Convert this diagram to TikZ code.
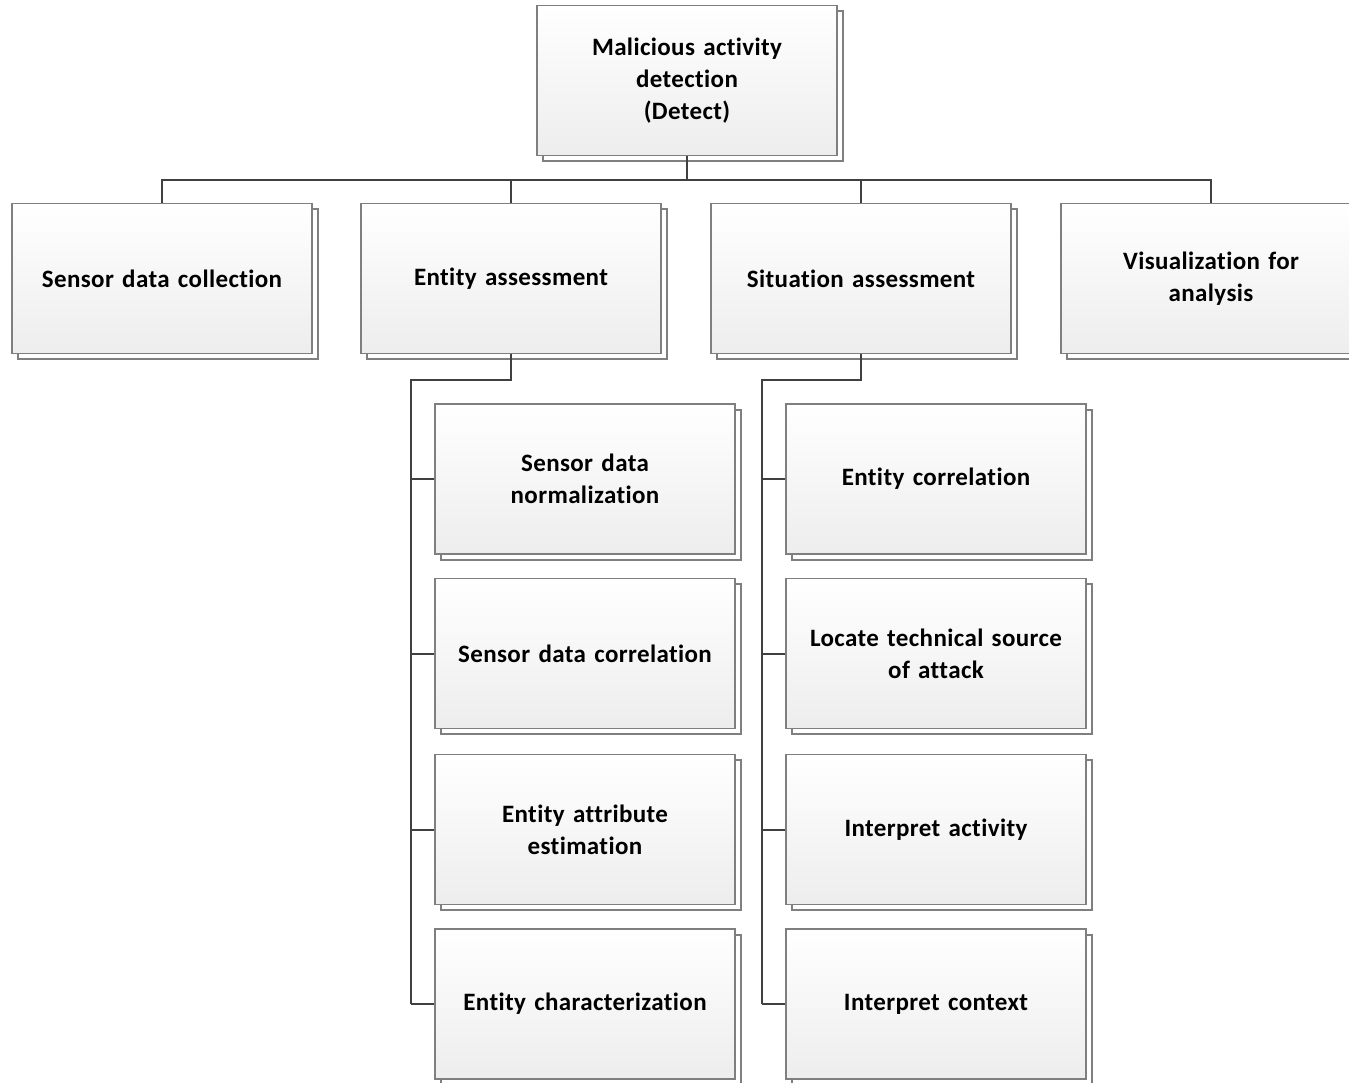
\documentclass[tikz,border=0pt]{standalone}
\usepackage{fontspec}
\setmainfont[Ligatures=NoCommon, LetterSpace=1.5]{Carlito}
\usetikzlibrary{shadows}
\definecolor{edgegray}{HTML}{7F7F7F}
\definecolor{linkgray}{HTML}{404040}
\tikzset{
  box/.style={rectangle, draw=edgegray, line width=1.2pt,
    top color=white, bottom color=black!7,
    minimum width=300pt, minimum height=150pt, text width=290pt, align=center,
    font=\fontsize{25}{32}\selectfont\bfseries,
    general shadow={fill=white, draw=edgegray, line width=2pt, shadow xshift=5.5pt, shadow yshift=-5.5pt}},
  link/.style={draw=linkgray, line width=2pt}
}
\begin{document}
\begin{tikzpicture}[x=1pt,y=-1pt]
\useasboundingbox (0,0) rectangle (1349,1082);
\clip (0,0) rectangle (1349,1082);
\fill[white] (0,0) rectangle (1349,1082);

% root and first level
\node[box] (root) at (687,80.5) {Malicious activity\\detection\\(Detect)};
\node[box] (collect) at (162,278.5) {Sensor data collection};
\node[box] (entity) at (511,278.5) {Entity assessment};
\node[box] (situation) at (861,278.5) {Situation assessment};
\node[box] (visual) at (1211,278.5) {Visualization for\\analysis};

% entity assessment sub-tasks
\node[box] (norm) at (585,479) {Sensor data\\normalization};
\node[box] (scorr) at (585,653.5) {Sensor data correlation};
\node[box] (attr) at (585,829.5) {Entity attribute\\estimation};
\node[box] (charact) at (585,1004) {Entity characterization};

% situation assessment sub-tasks
\node[box] (ecorr) at (936,479) {Entity correlation};
\node[box] (locate) at (936,653.5) {Locate technical source\\of attack};
\node[box] (iact) at (936,829.5) {Interpret activity};
\node[box] (ictx) at (936,1004) {Interpret context};

% tree connectors, first level
\coordinate (bus) at (687,180);
\draw[link] (root.south) -- (bus);
\foreach \c in {collect,entity,situation,visual}
  \draw[link] (root.south |- bus) -| (\c.north);

% entity assessment trunk
\coordinate (etrunk) at (411,380);
\draw[link] (entity.south) |- (etrunk) -- (etrunk |- charact.west);
\foreach \c in {norm,scorr,attr,charact}
  \draw[link] (etrunk |- \c.west) -- (\c.west);

% situation assessment trunk
\coordinate (strunk) at (762,380);
\draw[link] (situation.south) |- (strunk) -- (strunk |- ictx.west);
\foreach \c in {ecorr,locate,iact,ictx}
  \draw[link] (strunk |- \c.west) -- (\c.west);
\end{tikzpicture}
\end{document}
